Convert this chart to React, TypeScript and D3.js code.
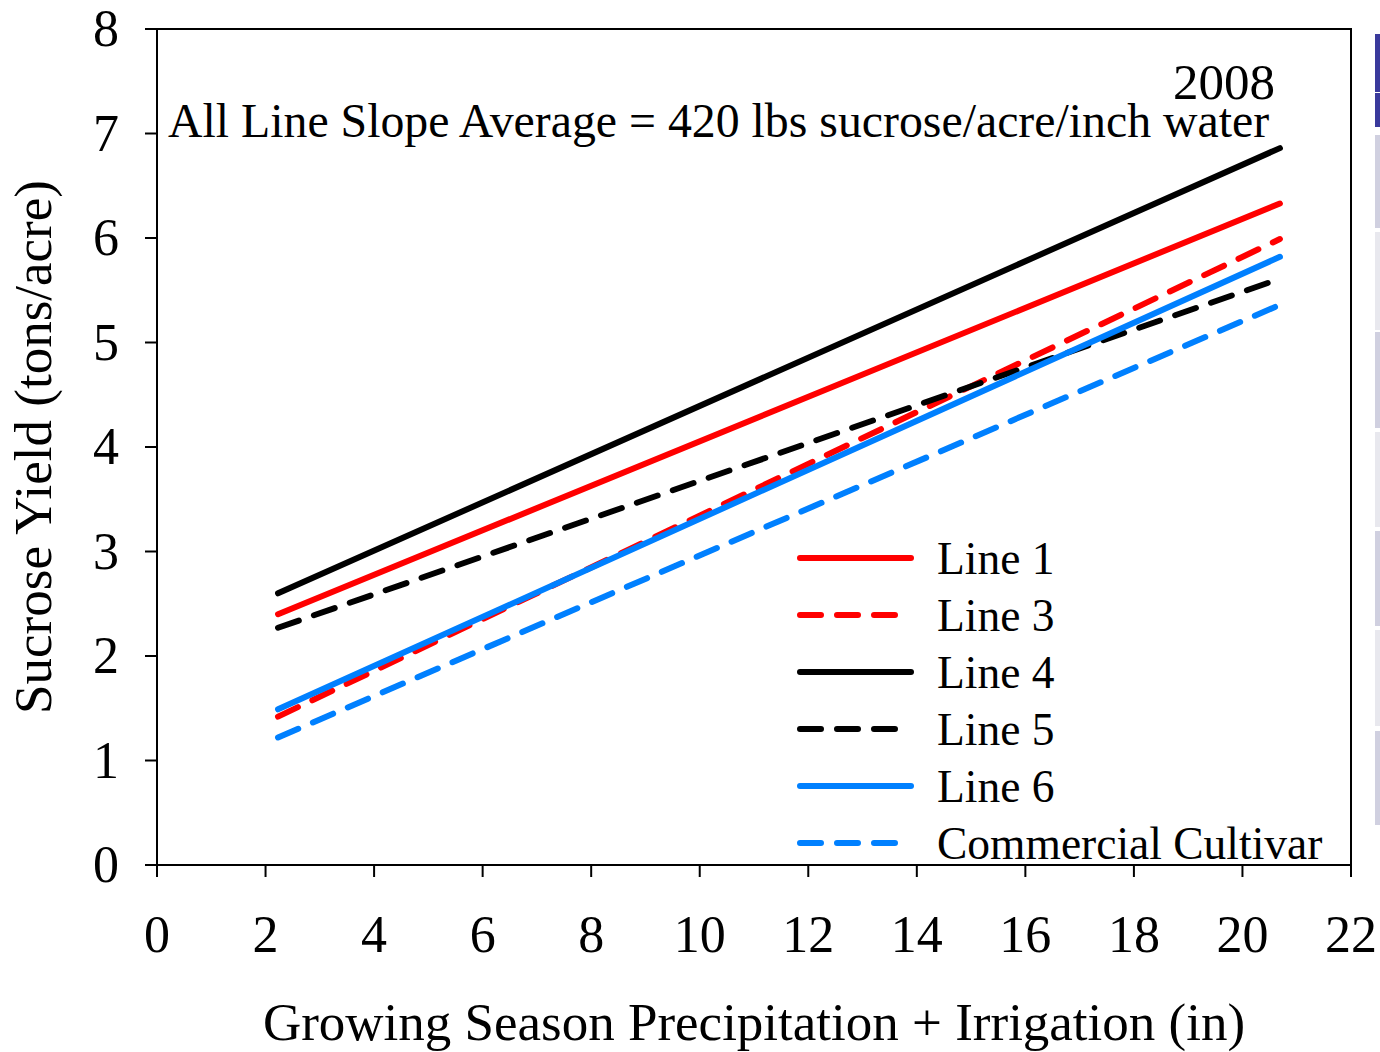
import React from "react";
import * as d3 from "d3";

const xTicks = [0, 2, 4, 6, 8, 10, 12, 14, 16, 18, 20, 22];
const yTicks = [0, 1, 2, 3, 4, 5, 6, 7, 8];
const xRange = [2.23, 20.69];

const seriesNames = ["Line 1", "Line 3", "Line 4", "Line 5", "Line 6", "Commercial Cultivar"];
const seriesColors = ["#ff0000", "#ff0000", "#000000", "#000000", "#0080ff", "#0080ff"];
const seriesDashed = [false, true, false, true, false, true];
const seriesStart = [2.4, 1.42, 2.6, 2.27, 1.49, 1.22];
const seriesEnd = [6.33, 5.99, 6.86, 5.61, 5.82, 5.36];

const stripSegments = [
  { y0: 34, y1: 92, c: "#3a3a9c" },
  { y0: 93, y1: 127, c: "#3a3a9c" },
  { y0: 135, y1: 228, c: "#d0d0e0" },
  { y0: 232, y1: 330, c: "#e8e8ee" },
  { y0: 332, y1: 428, c: "#d0d0e0" },
  { y0: 432, y1: 527, c: "#e8e8ee" },
  { y0: 531, y1: 626, c: "#d0d0e0" },
  { y0: 630, y1: 726, c: "#e8e8ee" },
  { y0: 731, y1: 825, c: "#d0d0e0" },
];

export default function App() {
  const W = 1380, H = 1052;
  const L = 157, R = 1351, T = 29, B = 865;
  const x = d3.scaleLinear().domain([0, 22]).range([L, R]);
  const y = d3.scaleLinear().domain([0, 8]).range([B, T]);
  const line = d3.line<[number, number]>().x(d => x(d[0])).y(d => y(d[1]));
  const font = "'Liberation Serif', 'Times New Roman', serif";
  const legX0 = 800, legX1 = 911, legY0 = 558, legDy = 57;

  return (
    <svg width={W} height={H} style={{ position: "absolute", left: 0, top: 0, background: "#fff" }} fontFamily={font}>
      {stripSegments.map((s, i) => (
        <rect key={i} x={1375} y={s.y0} width={5} height={s.y1 - s.y0} fill={s.c} />
      ))}
      <rect x={L} y={T} width={R - L} height={B - T} fill="none" stroke="#000" strokeWidth={2} />
      {xTicks.map(t => (
        <g key={t}>
          <line x1={x(t)} x2={x(t)} y1={B} y2={B + 12} stroke="#000" strokeWidth={2} />
          <text x={x(t)} y={952} fontSize={52} textAnchor="middle">{t}</text>
        </g>
      ))}
      {yTicks.map(t => (
        <g key={t}>
          <line x1={L - 12} x2={L} y1={y(t)} y2={y(t)} stroke="#000" strokeWidth={2} />
          <text x={119} y={y(t) + 17} fontSize={52} textAnchor="end">{t}</text>
        </g>
      ))}
      {seriesNames.map((n, i) => (
        <path key={n} d={line([[xRange[0], seriesStart[i]], [xRange[1], seriesEnd[i]]]) || ""}
          fill="none" stroke={seriesColors[i]} strokeWidth={6} strokeLinecap="round"
          strokeDasharray={seriesDashed[i] ? "22 16" : undefined} />
      ))}
      {seriesNames.map((n, i) => (
        <g key={"l" + n}>
          <line x1={legX0} x2={legX1} y1={legY0 + i * legDy} y2={legY0 + i * legDy}
            stroke={seriesColors[i]} strokeWidth={6} strokeLinecap="round"
            strokeDasharray={seriesDashed[i] ? "21 16" : undefined} />
          <text x={937} y={legY0 + i * legDy + 16} fontSize={45.5}>{n}</text>
        </g>
      ))}
      <text x={1275} y={99} fontSize={51} textAnchor="end">2008</text>
      <text x={168} y={137} fontSize={47.8}>All Line Slope Average = 420 lbs sucrose/acre/inch water</text>
      <text x={754} y={1040} fontSize={53} textAnchor="middle">Growing Season Precipitation + Irrigation (in)</text>
      <text transform="translate(51,447) rotate(-90)" fontSize={53} textAnchor="middle">Sucrose Yield (tons/acre)</text>
    </svg>
  );
}
